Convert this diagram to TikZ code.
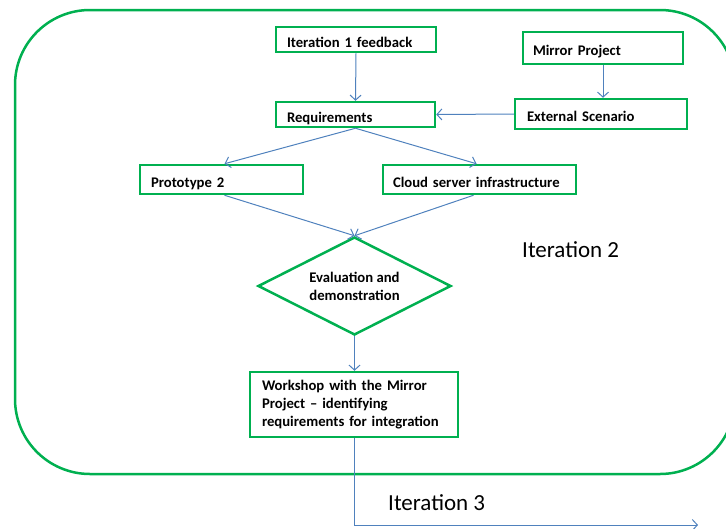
\documentclass[tikz,border=0pt]{standalone}
\usepackage{fontspec}
\setmainfont{Carlito}
\usetikzlibrary{arrows.meta,shapes.geometric}
\definecolor{boxgreen}{RGB}{0,176,80}
\definecolor{linkblue}{RGB}{79,129,189}
\begin{document}
\begin{tikzpicture}[x=1pt,y=-1pt,
  gbox/.style={draw=boxgreen,line width=2.5pt,rectangle,inner xsep=0pt,inner ysep=0pt,
    align=left,font=\fontsize{14.7}{18}\selectfont\bfseries,
    text height=15pt,text depth=0pt},
  gdiamond/.style={draw=boxgreen,line width=2.5pt,diamond,aspect=2,inner sep=0pt,align=center,
    font=\fontsize{14.7}{18}\selectfont\bfseries},
  conn/.style={draw=linkblue,line width=1pt,-{Straight Barb[length=5pt,width=11pt]}},
  label/.style={font=\fontsize{23}{26}\selectfont,anchor=base west,inner sep=0pt}]
  \useasboundingbox (0,0) rectangle (726,528);
  \clip (0,0) rectangle (726,528);

  % outer frame of iteration 2
  \draw[boxgreen,line width=2.5pt,rounded corners=75pt] (15,10) rectangle (735,474);

  % boxes
  \node[gbox,minimum width=160pt,minimum height=25pt,text width=138pt] (fb) at (356,39.5) {Iteration 1 feedback};
  \node[gbox,minimum width=160pt,minimum height=32pt,text width=140pt] (mp) at (603,48) {Mirror Project};
  \node[gbox,minimum width=159pt,minimum height=25pt,text width=137pt] (req) at (355.5,114.5) {Requirements};
  \node[gbox,minimum width=172pt,minimum height=30pt,text width=148pt] (ext) at (601,114) {External Scenario};
  \node[gbox,minimum width=163pt,minimum height=29pt,text width=141pt] (p2) at (221.5,179.5) {Prototype 2};
  \node[gbox,minimum width=193pt,minimum height=29pt,text width=173pt] (cloud) at (479.5,179.5) {Cloud server infrastructure};
  \node[gdiamond,minimum width=193pt,minimum height=98pt] (eval) at (354.5,286) {Evaluation and\\demonstration};
  \node[gbox,minimum width=208pt,minimum height=65pt,text width=184pt,text height=,text depth=] (ws) at (354,404.5)
    {Workshop with the Mirror\\Project -- identifying\\requirements for integration};

  % labels
  \node[label] (it2) at (522,257) {Iteration 2};
  \node[label] (it3) at (388,510) {Iteration 3};

  % connectors
  \coordinate (out) at (698,525);
  \draw[conn] (fb.south) -- (req.north);
  \draw[conn] (mp.south) -- (mp.south |- ext.north);
  \draw[conn] (ext.west) -- (req.east);
  \draw[conn] (req.south) -- ([xshift=3pt]p2.north);
  \draw[conn] (req.south) -- ([xshift=-3pt]cloud.north);
  \draw[conn] ([xshift=3pt]p2.south) -- (eval.north);
  \draw[conn] ([xshift=-6pt]cloud.south) -- (eval.north);
  \draw[conn] (eval.south) -- (eval.south |- ws.north);
  \draw[conn] (ws.south) |- (out);
\end{tikzpicture}
\end{document}
